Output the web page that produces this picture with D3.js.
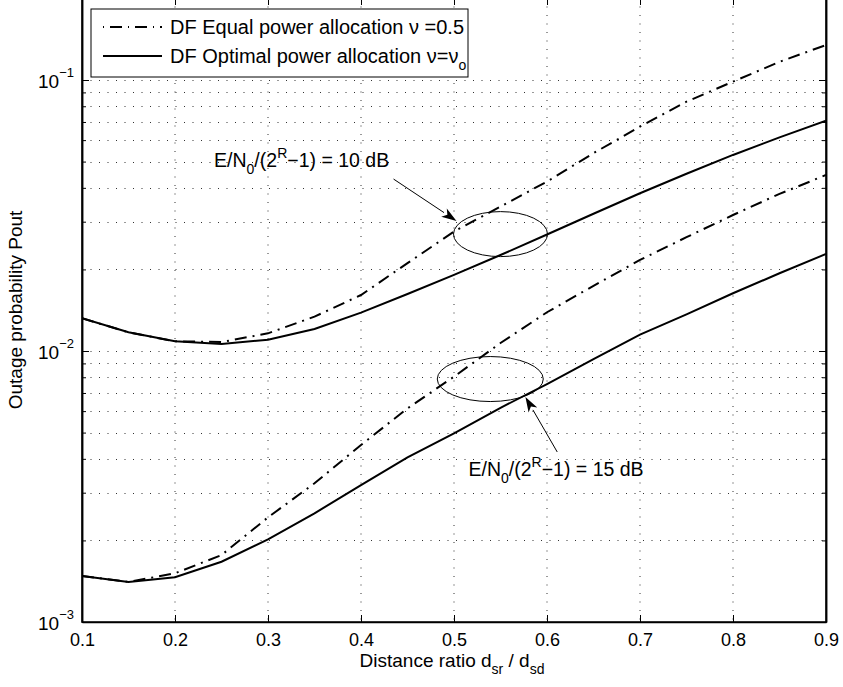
<!DOCTYPE html>
<html>
<head>
<meta charset="utf-8">
<script src="https://cdn.jsdelivr.net/npm/d3@7"></script>
<style>
  body { margin: 0; background: #fff; }
  svg { display: block; font-family: "Liberation Sans", Arial, Helvetica, sans-serif; }
</style>
</head>
<body>
<div id="chart"></div>
<script>
// distance ratio d_sr / d_sd
const ratio = [0.1, 0.15, 0.2, 0.25, 0.3, 0.35, 0.4, 0.45, 0.5, 0.55, 0.6, 0.65, 0.7, 0.75, 0.8, 0.85, 0.9];

// outage probability, E/N0/(2^R-1) = 10 dB
const equal10 = [0.0132, 0.01172, 0.01086, 0.01079, 0.01162, 0.01339, 0.01609, 0.0211, 0.0276, 0.0341, 0.0422, 0.0537, 0.0673, 0.0832, 0.0986, 0.1167, 0.1346];
const optimal10 = [0.0132, 0.01172, 0.01086, 0.01061, 0.01101, 0.01206, 0.01385, 0.01623, 0.0191, 0.0226, 0.0269, 0.0321, 0.0382, 0.0451, 0.0529, 0.0614, 0.0708];

// outage probability, E/N0/(2^R-1) = 15 dB
const equal15 = [0.001478, 0.001405, 0.001512, 0.001766, 0.002433, 0.003249, 0.0045, 0.006143, 0.00804, 0.0107, 0.0139, 0.0174, 0.02168, 0.0263, 0.03175, 0.038, 0.0446];
const optimal15 = [0.001478, 0.001405, 0.001462, 0.001669, 0.002019, 0.002518, 0.0032, 0.00405, 0.004963, 0.00617, 0.00755, 0.00933, 0.0115, 0.01365, 0.01633, 0.01936, 0.0228];

const xTicks = [0.1, 0.2, 0.3, 0.4, 0.5, 0.6, 0.7, 0.8, 0.9];
const yMajor = [1e-3, 1e-2, 1e-1];
const yExponents = ["−3", "−2", "−1"];
const legendLabels = ["DF Equal power allocation ν =0.5", "DF Optimal power allocation ν=ν"];

// annotations in data units: ellipse centre, text start, arrow start -> tip
const notes = [
  {label: "10", ellipse: [0.55, 0.0270], text: [0.242, 0.0479], from: [0.435, 0.0431], to: [0.5027, 0.0302]},
  {label: "15", ellipse: [0.539, 0.00788], text: [0.5156, 0.003456], from: [0.611, 0.00424], to: [0.5768, 0.00677]}
];

const W = 843, H = 687;
const margin = {top: -2, right: 17, bottom: 65, left: 82};
const width = W - margin.left - margin.right,
      height = H - margin.top - margin.bottom;

const svg = d3.select("#chart").append("svg")
  .attr("width", W).attr("height", H);

const g = svg.append("g")
  .attr("transform", `translate(${margin.left},${margin.top})`);

const x = d3.scaleLinear().domain([0.1, 0.9]).range([0, width]);
const y = d3.scaleLog().domain([1e-3, Math.pow(10, -3 + height / 271)]).range([height, 0]);

const yMinor = [];
[1e-3, 1e-2, 1e-1].forEach(d => {
  for (let k = 2; k <= 9; k++) if (d * k <= y.domain()[1]) yMinor.push(d * k);
});

g.append("defs").append("clipPath").attr("id", "clip")
  .append("rect").attr("width", width).attr("height", height);

// dotted grid
const grid = g.append("g").attr("stroke", "#333").attr("stroke-width", 1)
  .attr("stroke-dasharray", "1,7.5");
grid.selectAll(".gx").data(xTicks.slice(1, -1)).join("line")
  .attr("x1", d => x(d)).attr("x2", d => x(d))
  .attr("y1", 0).attr("y2", height);
grid.selectAll(".gy").data(yMajor.slice(1).concat(yMinor)).join("line")
  .attr("x1", 0).attr("x2", width)
  .attr("y1", d => Math.round(y(d)) + 0.5).attr("y2", d => Math.round(y(d)) + 0.5);

// curves
const line = d3.line()
  .x((d, i) => x(ratio[i]))
  .y(d => y(d));

const series = [
  {values: equal10, dash: "12,6,2,6"},
  {values: optimal10, dash: null},
  {values: equal15, dash: "12,6,2,6"},
  {values: optimal15, dash: null}
];
g.append("g").attr("clip-path", "url(#clip)")
  .selectAll("path").data(series).join("path")
  .attr("fill", "none")
  .attr("stroke", "#000")
  .attr("stroke-width", 2)
  .attr("stroke-dasharray", d => d.dash)
  .attr("d", d => line(d.values));

// axes, ticks pointing inward
const fontSize = 18;
g.append("g")
  .attr("transform", `translate(0,${height})`)
  .call(d3.axisBottom(x).tickValues(xTicks).tickSizeInner(-7).tickSizeOuter(0).tickPadding(11)
    .tickFormat(d3.format(".1f")))
  .call(a => a.selectAll("text").attr("font-size", fontSize).attr("fill", "#000"));
g.append("g")
  .call(d3.axisTop(x).tickValues(xTicks).tickSizeInner(-7).tickSizeOuter(0).tickFormat(""));
g.append("g")
  .call(d3.axisLeft(y).tickValues(yMajor).tickSizeInner(-7).tickSizeOuter(0).tickFormat(""));
g.append("g")
  .call(d3.axisLeft(y).tickValues(yMinor).tickSizeInner(-4).tickSizeOuter(0).tickFormat(""));
g.append("g")
  .attr("transform", `translate(${width},0)`)
  .call(d3.axisRight(y).tickValues(yMajor).tickSizeInner(-7).tickSizeOuter(0).tickFormat(""));
g.append("g")
  .attr("transform", `translate(${width},0)`)
  .call(d3.axisRight(y).tickValues(yMinor).tickSizeInner(-4).tickSizeOuter(0).tickFormat(""));
g.selectAll(".domain").attr("stroke", "#000").attr("stroke-width", 1.5);
g.selectAll(".tick line").attr("stroke", "#000");

// box
g.append("rect").attr("width", width).attr("height", height)
  .attr("fill", "none").attr("stroke", "#000").attr("stroke-width", 1.5);

// y tick labels 10^n
const yl = g.append("g").attr("font-size", fontSize + 1).attr("text-anchor", "end");
yMajor.forEach((d, i) => {
  const t = yl.append("text").attr("x", -8).attr("y", y(d) + 8);
  t.append("tspan").text("10");
  t.append("tspan").attr("font-size", 13).attr("dy", -11).text(yExponents[i]);
});

// axis labels
const xl = svg.append("text")
  .attr("x", margin.left + width / 2 - 2).attr("y", 667)
  .attr("text-anchor", "middle").attr("font-size", fontSize + 1);
xl.append("tspan").text("Distance ratio d");
xl.append("tspan").attr("font-size", 14).attr("dy", 7).text("sr");
xl.append("tspan").attr("dy", -7).text(" / d");
xl.append("tspan").attr("font-size", 14).attr("dy", 7).text("sd");

svg.append("text")
  .attr("transform", `translate(22,${310}) rotate(-90)`)
  .attr("text-anchor", "middle").attr("font-size", fontSize + 1)
  .text("Outage probability Pout");

// annotations
const ann = g.append("g");
notes.forEach(n => {
  ann.append("ellipse")
    .attr("cx", x(n.ellipse[0])).attr("cy", y(n.ellipse[1]))
    .attr("rx", n.label === "10" ? 47 : 53).attr("ry", 22.5)
    .attr("fill", "none").attr("stroke", "#000").attr("stroke-width", 1);
  const x1 = x(n.from[0]), y1 = y(n.from[1]), x2 = x(n.to[0]), y2 = y(n.to[1]);
  const ang = Math.atan2(y2 - y1, x2 - x1);
  const L = 15, w = 5;
  const bx = x2 - L * Math.cos(ang), by = y2 - L * Math.sin(ang);
  ann.append("line")
    .attr("x1", x1).attr("y1", y1).attr("x2", bx).attr("y2", by)
    .attr("stroke", "#000").attr("stroke-width", 1);
  ann.append("path")
    .attr("d", `M${x2},${y2}L${bx - w * Math.sin(ang)},${by + w * Math.cos(ang)}L${bx + 4 * Math.cos(ang)},${by + 4 * Math.sin(ang)}L${bx + w * Math.sin(ang)},${by - w * Math.cos(ang)}Z`)
    .attr("fill", "#000");
  const t = ann.append("text")
    .attr("x", x(n.text[0])).attr("y", y(n.text[1]))
    .attr("font-size", fontSize + 1.5);
  t.append("tspan").text("E/N");
  t.append("tspan").attr("font-size", 14).attr("dy", 7).text("0");
  t.append("tspan").attr("dy", -7).text("/(2");
  t.append("tspan").attr("font-size", 14).attr("dy", -9).text("R");
  t.append("tspan").attr("dy", 9).text(`−1) = ${n.label} dB`);
});

// legend
const lg = g.append("g");
lg.append("rect")
  .attr("x", 91 - margin.left).attr("y", 9 - margin.top)
  .attr("width", 377).attr("height", 68)
  .attr("fill", "#fff").attr("stroke", "#000").attr("stroke-width", 1);
legendLabels.forEach((lab, i) => {
  const cy = 27 - margin.top + i * 29;
  lg.append("line")
    .attr("x1", 103 - margin.left).attr("x2", 162 - margin.left)
    .attr("y1", cy).attr("y2", cy)
    .attr("stroke", "#000").attr("stroke-width", 2)
    .attr("stroke-dasharray", i === 0 ? "1,6,12,6,1,6,12,6" : null);
  const t = lg.append("text")
    .attr("x", 170 - margin.left).attr("y", cy + 6.5)
    .attr("font-size", 20);
  t.append("tspan").text(lab);
  if (i === 1) t.append("tspan").attr("font-size", 14).attr("dy", 7).text("o");
});
</script>
</body>
</html>
